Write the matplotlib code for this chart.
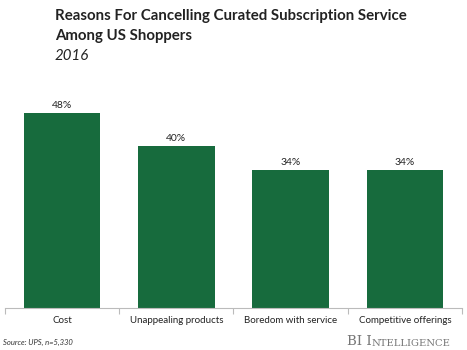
import numpy as np
import matplotlib.pyplot as plt

categories = ["Cost", "Unappealing products", "Boredom with service", "Competitive offerings"]
values = [48, 40, 34, 34]
labels = ["48%", "40%", "34%", "34%"]

green = "#176b3d"

fig = plt.figure(figsize=(4.67, 3.5), dpi=100)
ax = fig.add_axes([5/467, 1 - 308/350, 457/467, 223/350])

x = np.arange(len(categories))
bars = ax.bar(x, values, width=0.67, color=green)
for b, lab in zip(bars, labels):
    ax.text(b.get_x() + b.get_width()/2, b.get_height() + 0.8, lab,
            ha="center", va="bottom", fontsize=7.5, family="Lato", color="#222222")

ax.set_xlim(-0.5, len(categories) - 0.5)
ax.set_ylim(0, 55)
ax.set_yticks([])
ax.set_xticks(x)
ax.set_xticklabels(categories, fontsize=7, family="Lato", color="#222222")
ax.tick_params(axis="x", which="major", length=0, pad=6)
ax.set_xticks(np.arange(-0.5, len(categories)), minor=True)
ax.tick_params(axis="x", which="minor", length=4, color="#bbbbbb", width=0.8)
for s in ["top", "right", "left"]:
    ax.spines[s].set_visible(False)
ax.spines["bottom"].set_color("#bbbbbb")
ax.spines["bottom"].set_linewidth(0.8)

fig.text(55/467, 1 - 16/350, "Reasons For Cancelling Curated Subscription Service",
         fontsize=10.8, fontweight="bold", family="Lato", va="center", color="#222222")
fig.text(55/467, 1 - 36/350, "Among US Shoppers",
         fontsize=10.8, fontweight="bold", family="Lato", va="center", color="#222222")
fig.text(55/467, 1 - 56/350, "2016",
         fontsize=10.8, style="italic", family="Lato", va="center", color="#222222")

fig.text(3/467, 1 - 342/350, "Source: UPS, n=5,330", fontsize=5.5, style="italic",
         family="Lato", va="center", color="#333333")

# small caps logo: big letters then smaller ones
t1 = fig.text(347/467, 1 - 345/350, "BI I", fontsize=9.5, family="DejaVu Serif",
              va="baseline", color="#777777")
fig.canvas.draw()
ax.annotate("NTELLIGENCE", xy=(1, 0), xycoords=t1, fontsize=7.2,
            family="DejaVu Serif", va="bottom", ha="left", color="#777777",
            annotation_clip=False)

fig.savefig("out.png", dpi=100, facecolor="white")
